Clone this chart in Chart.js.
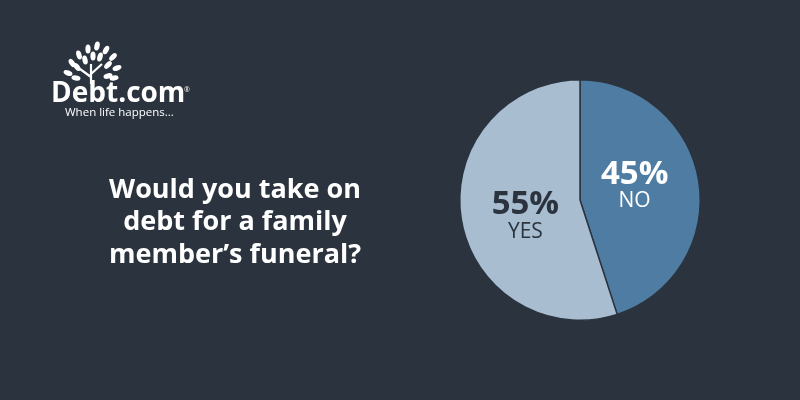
<!DOCTYPE html>
<html>
<head>
<meta charset="utf-8">
<script src="https://cdn.jsdelivr.net/npm/chart.js@4"></script>
<style>
  html, body { margin: 0; padding: 0; background: #2b343e; }
  #wrap { width: 800px; height: 400px; position: relative; }
</style>
</head>
<body>
<div id="wrap"><canvas id="chart" width="800" height="400"></canvas></div>
<script>
// answers, clockwise from 12 o'clock
const answers = ['NO', 'YES'];
const percents = [45, 55];
const sliceColors = ['#4f7ca2', '#a9bdd1'];
const labelColors = ['#ffffff', '#2b343e'];
const questionLines = ['Would you take on', 'debt for a family', 'member\u2019s funeral?'];

const bg = '#2b343e';
const labelNudgeY = [-4, 9];

// draws background, logo, question and in-slice labels
const decor = {
  id: 'decor',
  beforeDraw(chart) {
    const ctx = chart.ctx;
    ctx.save();
    ctx.fillStyle = bg;
    ctx.fillRect(0, 0, chart.width, chart.height);

    // logo leaves
    ctx.fillStyle = '#ffffff';
    const leaves = [
      [72, 63, -0.6], [79, 55, -0.3], [88, 49, 0], [97, 46, 0.2], [106, 50, 0.5], [113, 57, 0.8],
      [68, 73, -1.2], [77, 67, -0.7], [85, 60, -0.2], [100, 57, 0.3], [108, 65, 0.8], [117, 68, 1.2],
      [76, 78, -1.4], [108, 76, 1.3], [93, 56, 0], [114, 78, 1.4]
    ];
    leaves.forEach(([x, y, r]) => {
      ctx.beginPath();
      ctx.ellipse(x, y, 2.6, 4.6, r, 0, Math.PI * 2);
      ctx.fill();
    });
    ctx.strokeStyle = '#ffffff';
    ctx.lineWidth = 2.2;
    ctx.beginPath();
    ctx.moveTo(91, 84); ctx.lineTo(91, 64);
    ctx.moveTo(91, 77); ctx.lineTo(80, 69);
    ctx.moveTo(91, 74); ctx.lineTo(102, 64);
    ctx.stroke();

    ctx.textBaseline = 'alphabetic';
    ctx.textAlign = 'left';
    ctx.font = 'bold 28px "Open Sans"';
    ctx.fillText('Debt.com', 51, 102);
    ctx.font = '7px "Open Sans"';
    ctx.fillText('\u00ae', 184, 92);
    ctx.font = '11.5px "Open Sans"';
    ctx.fillText('When life happens...', 65, 116);

    // question
    ctx.textAlign = 'center';
    ctx.textBaseline = 'middle';
    ctx.font = 'bold 27px "Open Sans"';
    questionLines.forEach((t, i) => ctx.fillText(t, 235, 190 + i * 32.5));
    ctx.restore();
  },
  afterDatasetsDraw(chart) {
    const ctx = chart.ctx;
    const meta = chart.getDatasetMeta(0);
    ctx.save();
    ctx.textAlign = 'center';
    ctx.textBaseline = 'middle';
    meta.data.forEach((arc, i) => {
      const mid = (arc.startAngle + arc.endAngle) / 2;
      const r = arc.outerRadius * 0.46;
      const x = arc.x + Math.cos(mid) * r;
      const y = arc.y + Math.sin(mid) * r + labelNudgeY[i];
      ctx.fillStyle = labelColors[i];
      ctx.font = 'bold 33px "Open Sans"';
      ctx.fillText(percents[i] + '%', x, y - 13);
      ctx.font = '21px "Open Sans"';
      ctx.fillText(answers[i], x, y + 14);
    });
    ctx.restore();
  }
};

new Chart(document.getElementById('chart'), {
  type: 'pie',
  data: {
    labels: answers,
    datasets: [{
      data: percents,
      backgroundColor: sliceColors,
      borderColor: bg,
      borderWidth: 1.5,
      hoverOffset: 0
    }]
  },
  options: {
    responsive: false,
    animation: false,
    layout: { padding: { left: 459, right: 99, top: 79, bottom: 79 } },
    plugins: { legend: { display: false }, tooltip: { enabled: false } }
  },
  plugins: [decor]
});
</script>
</body>
</html>
